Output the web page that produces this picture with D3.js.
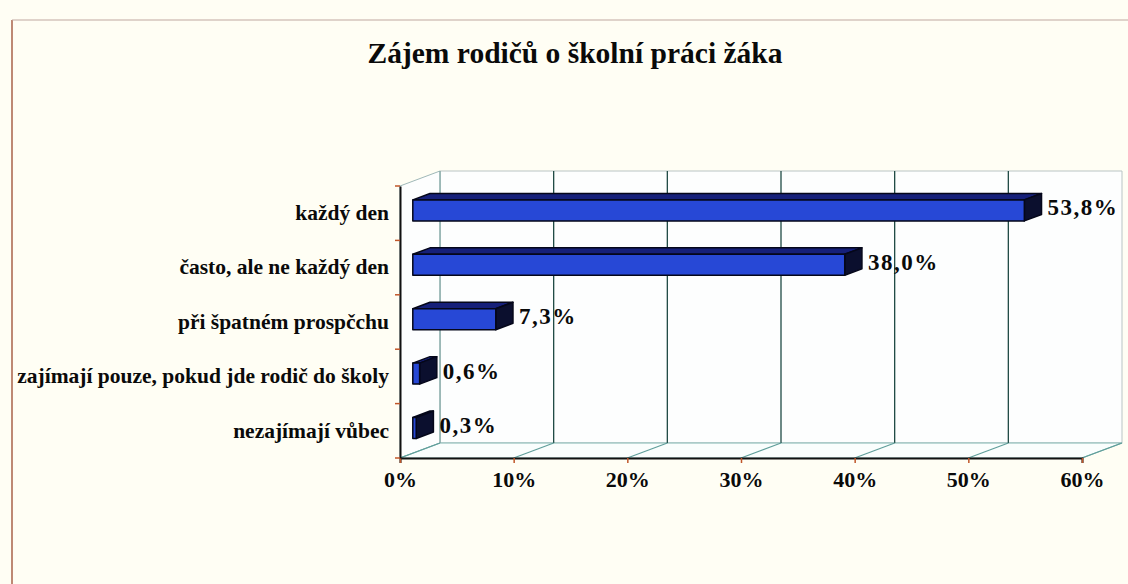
<!DOCTYPE html>
<html>
<head>
<meta charset="utf-8">
<script src="https://cdn.jsdelivr.net/npm/d3@7"></script>
<style>
  html, body { margin: 0; padding: 0; background: #fffef4; }
  svg { display: block; }
  text { font-family: "Liberation Serif", "Times New Roman", serif; font-weight: bold; fill: #0a0a0a; }
</style>
</head>
<body>
<svg id="chart" width="1128" height="584"></svg>
<script>
const title = "Zájem rodičů o školní práci žáka";
const categories = [
    "každý den",
    "často, ale ne každý den",
    "při špatném prospčchu",
    "zajímají pouze, pokud jde rodič do školy",
    "nezajímají vůbec"
];
const values = [53.8, 38.0, 7.3, 0.6, 0.3];
const xTicks = [0, 10, 20, 30, 40, 50, 60];

const svg = d3.select('#chart');
const W = +svg.attr('width'), H = +svg.attr('height');

// 3D depth offset of the back wall
const DX = 40, DY = -15;
const bar0 = 0.32, bar1 = 0.75; // bar depth span (fraction of depth)

const x = d3.scaleLinear().domain([0, 60]).range([400, 1082]);
const y = d3.scaleBand().domain(categories).range([186, 458]);
const x0 = x(0), yBase = y.range()[1], yTop = y.range()[0];

// outer background and frame
svg.append('rect').attr('width', W).attr('height', H).attr('fill', '#fffef4');
svg.append('path')
    .attr('d', `M12,${H} L12,20`)
    .attr('fill', 'none').attr('stroke', '#a8624a').attr('stroke-width', 1.5);
svg.append('line').attr('x1', 12).attr('y1', 20).attr('x2', W).attr('y2', 20)
    .attr('stroke', '#c0a8a0').attr('stroke-width', 1);

svg.append('text')
    .attr('x', 575).attr('y', 63)
    .attr('text-anchor', 'middle')
    .style('font-size', '29.5px')
    .text(title);

const pt = (px, py, t) => [px + DX * t, py + DY * t];
const poly = pts => 'M' + pts.map(p => p.join(',')).join('L') + 'Z';

const plot = svg.append('g');
const xEnd = x(60);

// walls
plot.append('path') // back wall
    .attr('d', poly([pt(x0, yTop, 1), pt(xEnd, yTop, 1), pt(xEnd, yBase, 1), pt(x0, yBase, 1)]))
    .attr('fill', '#fdfefe').attr('stroke', '#b9c4c4').attr('stroke-width', 1);
plot.append('path') // left wall
    .attr('d', poly([pt(x0, yTop, 0), pt(x0, yTop, 1), pt(x0, yBase, 1), pt(x0, yBase, 0)]))
    .attr('fill', '#fdfefe').attr('stroke', '#9fb8b8').attr('stroke-width', 1);
plot.append('path') // floor
    .attr('d', poly([pt(x0, yBase, 0), pt(xEnd, yBase, 0), pt(xEnd, yBase, 1), pt(x0, yBase, 1)]))
    .attr('fill', '#fafefd').attr('stroke', '#7fb4b0').attr('stroke-width', 1.2);

// gridlines on back wall and floor
xTicks.forEach(v => {
    const a = pt(x(v), yTop, 1), b = pt(x(v), yBase, 1), c = pt(x(v), yBase, 0);
    if (v > 0 && v < 60) {
        plot.append('line').attr('x1', a[0]).attr('y1', a[1]).attr('x2', b[0]).attr('y2', b[1])
            .attr('stroke', '#1f4a44').attr('stroke-width', 1.3);
    }
    plot.append('line').attr('x1', b[0]).attr('y1', b[1]).attr('x2', c[0]).attr('y2', c[1])
        .attr('stroke', '#5f9e9a').attr('stroke-width', 1.2);
});
// back wall left edge
plot.append('line')
    .attr('x1', pt(x0, yTop, 1)[0]).attr('y1', pt(x0, yTop, 1)[1])
    .attr('x2', pt(x0, yBase, 1)[0]).attr('y2', pt(x0, yBase, 1)[1])
    .attr('stroke', '#7aa39f').attr('stroke-width', 1);

// value labels (drawn under the bars)
const barY = c => y(c) + y.bandwidth() / 2 + 2;
const halfH = 10.5;
plot.selectAll('text.val')
    .data(values)
    .enter()
    .append('text')
    .attr('class', 'val')
    .attr('x', d => x(d) + DX * bar1 + 6)
    .attr('y', (d, i) => barY(categories[i]) + DY * bar0 + 5)
    .style('font-size', '23px')
    .style('letter-spacing', '1.5px')
    .text(d => d.toFixed(1).replace('.', ',') + '%');

// bars as 3D boxes
const bars = plot.selectAll('g.bar')
    .data(values)
    .enter()
    .append('g')
    .attr('class', 'bar');
const faces = (d, i) => {
    const cy = barY(categories[i]);
    const xl = x(0), xr = x(d), yt = cy - halfH, yb = cy + halfH;
    return {
        front: [pt(xl, yt, bar0), pt(xr, yt, bar0), pt(xr, yb, bar0), pt(xl, yb, bar0)],
        top: [pt(xl, yt, bar0), pt(xl, yt, bar1), pt(xr, yt, bar1), pt(xr, yt, bar0)],
        side: [pt(xr, yt, bar0), pt(xr, yt, bar1), pt(xr, yb, bar1), pt(xr, yb, bar0)]
    };
};
bars.append('path')
    .attr('d', (d, i) => poly(faces(d, i).top))
    .attr('fill', '#16207a').attr('stroke', '#05071a').attr('stroke-width', 1.5)
    .attr('stroke-linejoin', 'round');
bars.append('path')
    .attr('d', (d, i) => poly(faces(d, i).side))
    .attr('fill', '#0b0f2e').attr('stroke', '#05071a').attr('stroke-width', 1.5)
    .attr('stroke-linejoin', 'round');
bars.append('path')
    .attr('d', (d, i) => poly(faces(d, i).front))
    .attr('fill', '#2748d6').attr('stroke', '#05071a').attr('stroke-width', 1.5)
    .attr('stroke-linejoin', 'round');

// front axes
const xAxis = svg.append('g')
    .attr('transform', `translate(0,${yBase})`)
    .call(d3.axisBottom(x).tickValues(xTicks).tickSize(5).tickPadding(8).tickFormat(d => d + '%'));
xAxis.select('.domain').attr('stroke', '#111').attr('stroke-width', 2);
xAxis.selectAll('.tick line').attr('stroke', '#c0562a').attr('stroke-width', 1.5);
xAxis.selectAll('.tick text')
    .style('font-size', '22px')
    .style('font-family', '"Liberation Serif", serif')
    .style('font-weight', 'bold')
    .attr('fill', '#0a0a0a');

const yAxis = svg.append('g')
    .attr('transform', `translate(${x0},0)`)
    .call(d3.axisLeft(y).tickSize(0).tickPadding(11));
yAxis.select('.domain').attr('stroke', '#111').attr('stroke-width', 2);
yAxis.selectAll('.tick text')
    .attr('dy', '0.32em')
    .style('font-size', '21.5px')
    .style('font-family', '"Liberation Serif", serif')
    .style('font-weight', 'bold')
    .attr('fill', '#0a0a0a');
// category boundary ticks
yAxis.selectAll('line.bound')
    .data(categories.map(c => y(c)).concat([yBase]))
    .enter()
    .append('line')
    .attr('class', 'bound')
    .attr('x1', -5).attr('x2', 0)
    .attr('y1', d => d).attr('y2', d => d)
    .attr('stroke', '#c0562a').attr('stroke-width', 1.5);
</script>
</body>
</html>
